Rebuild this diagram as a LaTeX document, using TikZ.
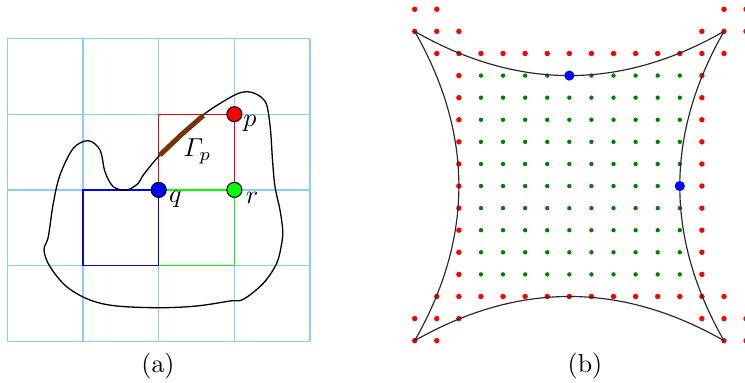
\documentclass[tikz,border=0pt]{standalone}
\usepackage{amsmath}
\definecolor{gridblue}{RGB}{135,206,250}
\definecolor{brownline}{RGB}{122,50,5}
\definecolor{dotgreen}{RGB}{0,128,0}
\definecolor{curvegray}{RGB}{40,40,40}
\begin{document}
\begin{tikzpicture}[x=0.385pt,y=-0.385pt,
  vertex/.style={circle,draw=black,line width=0.4pt,inner sep=0pt,minimum size=5.8pt},
  cellline/.style={line width=0.5pt},
  gridline/.style={gridblue,line width=0.5pt},
  reddot/.style={fill=red},
  greendot/.style={fill=dotgreen},
  bluedot/.style={circle,fill=blue,inner sep=0pt,minimum size=3.9pt},
  bcurve/.style={curvegray,line width=0.45pt}]
\useasboundingbox (0,0) rectangle (745,382);
\clip (0,0) rectangle (745,382);
% ---------- panel (a)
\begin{scope}[shift={(7.3,341.3)},x=29.14pt,y=29.14pt]
  \foreach \k in {0,...,4} {
    \draw[gridline] (\k,0) -- (\k,4);
    \draw[gridline] (0,\k) -- (4,\k);
  }
  \draw[green,cellline] (2,2) -- (3,2) -- (3,1) -- (2,1);
  \draw[blue,cellline] (2,2) -- (1,2) -- (1,1) -- (2,1) -- cycle;
  \draw[red,cellline] (2,2) -- (2,3) -- (3,3) -- (3,2);
\end{scope}
\draw[black,line width=0.5pt] plot[smooth cycle,tension=0.55] coordinates {
 (158.5,156.5) (181,134) (203,115) (220,103.5) (238,93.5) (250,92) (261,97)
 (267,106) (270.5,130) (272.5,160) (275,186.7) (280,210) (282.7,230) (281.7,243.3)
 (276.7,263.3) (263.3,283.3) (243.3,299.3) (230,301) (196.7,306) (160,307.7)
 (116.7,306) (90,300) (66.7,286.7) (50,266.7) (44,250) (48.3,236.7)
 (53.3,203.3) (60,175) (73.3,148.3) (88.3,140.7) (100,150) (105,171.7)
 (113.3,186.7) (126.7,190) (138.3,183.3) (143.3,175)};
\coordinate (g1) at (160,155);
\coordinate (g2) at (181,135);
\coordinate (g3) at (203.3,115.5);
\draw[brownline,line width=1.9pt] (g1) -- (g2) -- (g3);
\node[vertex,fill=red] (p) at (234.4,114.2) {};
\node[vertex,fill=blue] (q) at (158.7,189.9) {};
\node[vertex,fill=green] (r) at (234.4,189.9) {};
\node (plabel) at (250,123) {$p$};
\node (qlabel) at (175.5,199) {$q$};
\node (rlabel) at (252,198) {$r$};
\node (glabel) at (197.5,151) {$\varGamma_p$};
\node (capa) at (158,366) {(a)};
% ---------- panel (b)
\begin{scope}[shift={(414.7,9.3)},x=8.505pt,y=-8.505pt]
  \foreach \i in {0,1,14,15} {
    \fill[reddot] (\i,0) circle[radius=1.05pt];
    \fill[reddot] (\i,15) circle[radius=1.05pt];
  }
  \foreach \i in {0,1,2,13,14,15} {
    \fill[reddot] (\i,1) circle[radius=1.05pt];
    \fill[reddot] (\i,14) circle[radius=1.05pt];
  }
  \foreach \i in {1,...,14} {
    \fill[reddot] (\i,2) circle[radius=1.05pt];
    \fill[reddot] (\i,13) circle[radius=1.05pt];
  }
  \foreach \j in {3,...,12} {
    \fill[reddot] (2,\j) circle[radius=1.05pt];
    \fill[reddot] (13,\j) circle[radius=1.05pt];
    \foreach \i in {3,...,12} {
      \fill[greendot] (\i,\j) circle[radius=0.85pt];
    }
  }
  \coordinate (A) at (0,1);
  \coordinate (B) at (14,1);
  \coordinate (C) at (14,15);
  \coordinate (D) at (0,15);
  \draw[bcurve] (A) .. controls (4.667,3.667) and (9.333,3.667) .. (B);
  \draw[bcurve] (B) .. controls (11.333,5.667) and (11.333,10.333) .. (C);
  \draw[bcurve] (C) .. controls (9.333,12.333) and (4.667,12.333) .. (D);
  \draw[bcurve] (D) .. controls (2.667,10.333) and (2.667,5.667) .. (A);
  \node[bluedot] (btop) at (7,3) {};
  \node[bluedot] (bright) at (12,8) {};
\end{scope}
\node (capb) at (585,366) {(b)};
\end{tikzpicture}
\end{document}
